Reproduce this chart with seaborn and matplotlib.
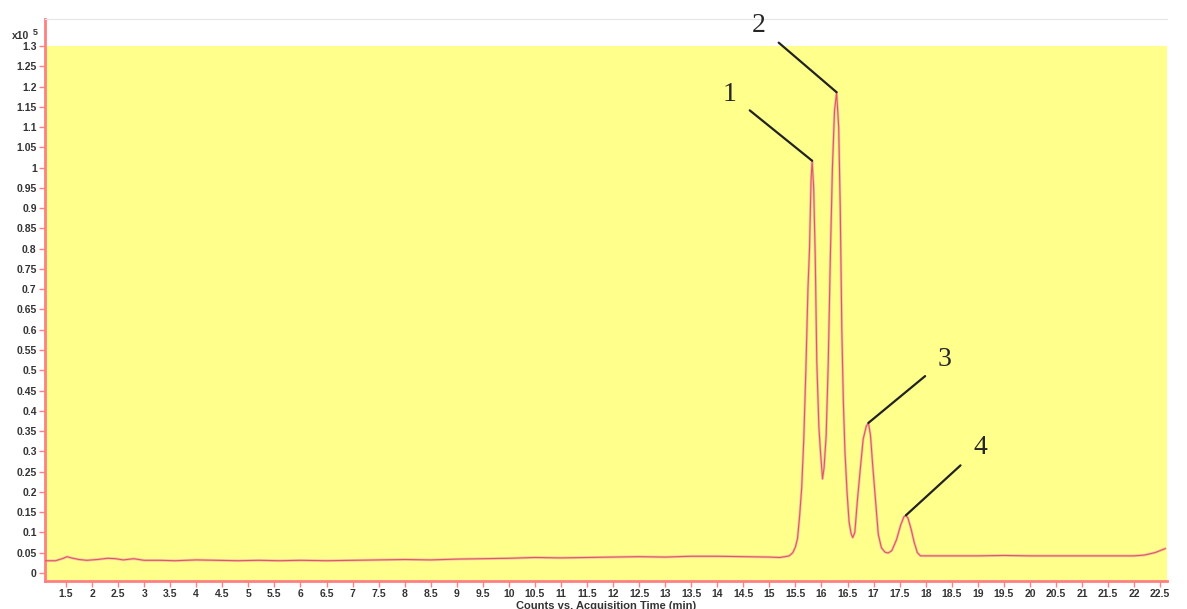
import numpy as np
import pandas as pd
import matplotlib
matplotlib.use("Agg")
import matplotlib.pyplot as plt
import seaborn as sns

# chromatogram (time in min, counts in units of 1e5)
time_min = [1.10, 1.30, 1.45, 1.52, 1.60, 1.75, 1.90, 2.10, 2.30, 2.45, 2.60, 2.80, 3.00,
            3.30, 3.60, 4.00, 4.40, 4.80, 5.20, 5.60, 6.00, 6.50, 7.00, 7.50, 8.00, 8.50,
            9.00, 9.50, 10.00, 10.50, 11.00, 11.50, 12.00, 12.50, 13.00, 13.50, 14.00,
            14.50, 15.00, 15.20, 15.30, 15.38, 15.45, 15.50, 15.54, 15.58, 15.62, 15.66,
            15.70, 15.74, 15.77, 15.80, 15.82, 15.85, 15.88, 15.91, 15.95, 15.98, 16.02,
            16.05, 16.09, 16.13, 16.17, 16.21, 16.25, 16.29, 16.33, 16.36, 16.39, 16.42,
            16.45, 16.49, 16.53, 16.57, 16.60, 16.64, 16.69, 16.74, 16.80, 16.86, 16.90,
            16.94, 16.98, 17.03, 17.09, 17.15, 17.22, 17.28, 17.35, 17.44, 17.52, 17.58,
            17.62, 17.66, 17.72, 17.78, 17.84, 17.90, 18.50, 19.00, 19.50, 20.00, 20.50,
            21.00, 21.50, 22.00, 22.20, 22.40, 22.60]
counts = [0.030, 0.030, 0.036, 0.040, 0.037, 0.033, 0.031, 0.033, 0.036, 0.035, 0.032,
          0.035, 0.031, 0.031, 0.030, 0.032, 0.031, 0.030, 0.031, 0.030, 0.031, 0.030,
          0.031, 0.032, 0.033, 0.032, 0.034, 0.035, 0.036, 0.038, 0.037, 0.038, 0.039,
          0.040, 0.039, 0.041, 0.041, 0.040, 0.039, 0.038, 0.040, 0.042, 0.050, 0.064,
          0.085, 0.140, 0.210, 0.330, 0.500, 0.700, 0.800, 0.970, 1.017, 0.950, 0.780,
          0.520, 0.360, 0.300, 0.232, 0.260, 0.340, 0.520, 0.780, 1.000, 1.140, 1.186,
          1.100, 0.900, 0.600, 0.420, 0.300, 0.200, 0.125, 0.096, 0.087, 0.100, 0.180,
          0.250, 0.330, 0.362, 0.370, 0.340, 0.270, 0.190, 0.095, 0.062, 0.051, 0.049,
          0.055, 0.082, 0.118, 0.138, 0.142, 0.135, 0.108, 0.075, 0.050, 0.042, 0.042,
          0.042, 0.043, 0.042, 0.042, 0.042, 0.042, 0.042, 0.044, 0.050, 0.060]

peak_labels = ["1", "2", "3", "4"]
peak_time = [15.82, 16.29, 16.90, 17.62]
peak_height = [1.017, 1.186, 0.370, 0.142]
label_time = [14.24, 14.80, 18.37, 19.04]
label_height = [1.181, 1.350, 0.526, 0.309]

x_ticks = np.arange(1.5, 22.51, 0.5)
y_ticks = np.arange(0, 1.301, 0.05)

df = pd.DataFrame({"time": time_min, "counts": counts})

sns.set_style("white")
plt.rcParams["font.family"] = ["Liberation Sans", "DejaVu Sans"]

fig = plt.figure(figsize=(11.87, 6.09), dpi=100)
ax = fig.add_axes([0.0379, 0.046, 0.9452, 0.923])
ax.set_facecolor("white")
ax.axhspan(-0.02, 1.3, color="#ffff8c", zorder=0, lw=0)

# light halo under the trace, then the trace itself
sns.lineplot(data=df, x="time", y="counts", ax=ax, color="#f7c0a8", lw=1.9, zorder=2)
sns.lineplot(data=df, x="time", y="counts", ax=ax, color="#dd5a5a", lw=0.8, zorder=3)

for lab, px, py, tx, ty in zip(peak_labels, peak_time, peak_height, label_time, label_height):
    ax.annotate(lab, xy=(px, py), xytext=(tx, ty), fontsize=20, family="Liberation Serif",
                ha="center", va="center", zorder=5,
                arrowprops=dict(arrowstyle="-", color="#222222", lw=1.6,
                                shrinkA=9, shrinkB=0))

ax.set_xlim(1.097, 22.63)
ax.set_ylim(-0.02, 1.367)
ax.set_xticks(x_ticks)
ax.set_xticklabels([f"{v:g}" for v in x_ticks])
ax.set_yticks(y_ticks)
ax.set_yticklabels([f"{v:.2f}".rstrip("0").rstrip(".") for v in y_ticks])
ax.tick_params(axis="both", direction="out", length=4, width=1, color="#ff8080",
               labelsize=7.5, pad=2, left=True, bottom=True)
for lab in ax.get_xticklabels() + ax.get_yticklabels():
    lab.set_fontweight("bold")
    lab.set_color("#333333")

for side in ["left", "bottom"]:
    ax.spines[side].set_color("#ff8080")
    ax.spines[side].set_linewidth(2)
ax.spines["top"].set_color("#e6e6e6")
ax.spines["top"].set_linewidth(0.8)
ax.spines["right"].set_visible(False)

ax.set_xlabel("Counts vs. Acquisition Time (min)", fontsize=8, fontweight="bold",
              color="#333333", labelpad=1)
ax.set_ylabel("")
fig.text(0.010, 0.933, "x10", fontsize=7.5, fontweight="bold", color="#333333",
         va="bottom")
fig.text(0.028, 0.940, "5", fontsize=6.5, fontweight="bold", color="#333333",
         va="bottom")

fig.savefig("out.png", dpi=100)
